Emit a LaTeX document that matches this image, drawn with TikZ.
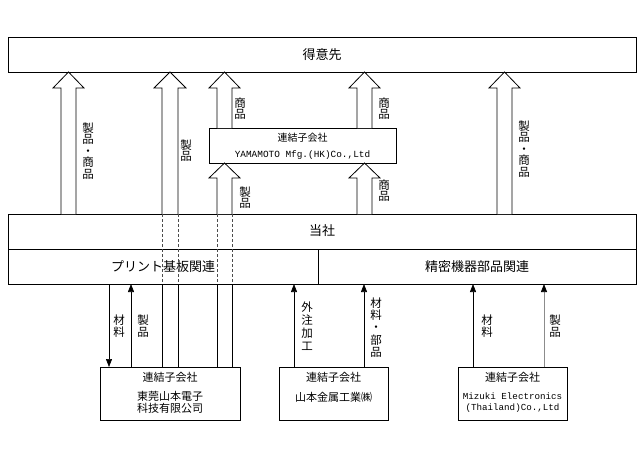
\documentclass[tikz,border=0pt]{standalone}
\usepackage{fontspec}
\setmainfont{Noto Sans CJK JP}
\newfontfamily\monof{Liberation Mono}
\usetikzlibrary{arrows.meta}
\tikzset{
  box/.style={draw, line width=0.9pt, fill=white, inner sep=0pt},
  harr/.style={draw, line width=0.8pt, fill=white, line join=miter},
  thinarr/.style={line width=0.6pt, -{Triangle[width=6pt,length=8pt]}},
  grayarr/.style={line width=0.7pt, draw=black!45, -{Triangle[width=6pt,length=8pt,color=black]}},
  vlab/.style={align=center, inner sep=0pt, font=\fontsize{11.5}{11.5}\selectfont},
  vlabw/.style={align=center, inner sep=0pt, font=\fontsize{11.5}{13}\selectfont},
  big/.style={font=\fontsize{13}{13}\selectfont},
  mid/.style={font=\fontsize{11}{11}\selectfont},
}
\newcommand\harrow[5]{\draw[harr] (#1,#3) -- (#1,#5) -- ({#1-8},#5) -- ({(#1+#2)/2},#4) -- ({#2+8},#5) -- (#2,#5) -- (#2,#3);}
\begin{document}
\begin{tikzpicture}[x=1pt,y=-1pt]
\useasboundingbox (0,0) rectangle (643,455);
% top box
\draw[box] (8,37) rectangle (636,72);
\node[big] (tokui) at (322,54.5) {得意先};
% HK box
\draw[box] (209,128) rectangle (396,163);
\node[font=\fontsize{10}{10}\selectfont] (hk1) at (302.5,137.5) {連結子会社};
\node[font=\monof\fontsize{9.4}{9.4}\selectfont] (hk2) at (302.5,155) {YAMAMOTO Mfg.(HK)Co.,Ltd};
% 当社 box
\draw[box] (8,214) rectangle (636,284);
\draw[line width=0.9pt] (8,249) -- (636,249);
\draw[line width=0.9pt] (318,249) -- (318,284);
\node[big] (tosha) at (322,231) {当社};
\node[big] (print) at (163,267) {プリント基板関連};
\node[big] (seimitsu) at (477,267) {精密機器部品関連};
% hollow arrows
\harrow{61}{76}{214}{72}{88}
\harrow{162}{178}{214}{72}{88}
\harrow{217}{232}{128}{72}{88}
\harrow{217}{232}{214}{163}{178}
\harrow{357}{372}{128}{72}{88}
\harrow{357}{372}{214}{163}{178}
\harrow{497}{512}{214}{72}{88}
% dashed through 当社
\foreach \x in {162,178,217,232} {
  \draw[line width=0.5pt, dash pattern=on 3pt off 2pt, black!70] (\x,214) -- (\x,284);
  \draw[line width=0.8pt] (\x,284) -- (\x,367);
}
% labels of hollow arrows
\node[vlab] (l1) at (88,151) {製\\品\\・\\商\\品};
\node[vlab] (l2) at (186,150.5) {製\\品};
\node[vlab] (l3) at (240,108.5) {商\\品};
\node[vlab] (l4) at (245,197.5) {製\\品};
\node[vlab] (l5) at (384,108.5) {商\\品};
\node[vlab] (l6) at (384,190.5) {商\\品};
\node[vlab] (l7) at (524,149) {製\\品\\・\\商\\品};
% bottom boxes
\draw[box] (100,367) rectangle (240,420);
\node[mid] (b1a) at (170,377.5) {連結子会社};
\node[mid, align=center, font=\fontsize{11}{12}\selectfont] (b1b) at (170,402.5) {東莞山本電子\\科技有限公司};
\draw[box] (279,367) rectangle (388,420);
\node[mid] (b2a) at (333.5,377.5) {連結子会社};
\node[mid] (b2b) at (333.5,397) {山本金属工業㈱};
\draw[box] (458,367) rectangle (567,420);
\node[mid] (b3a) at (512.5,377.5) {連結子会社};
\node[align=center, font=\monof\fontsize{9.2}{11.5}\selectfont] (b3b) at (512.5,402.5) {Mizuki Electronics\\(Thailand)Co.,Ltd};
% thin arrows
\coordinate (top1) at (109,284); \coordinate (bot1) at (109,367);
\coordinate (top2) at (131,284); \coordinate (bot2) at (131,367);
\coordinate (top3) at (294,284); \coordinate (bot3) at (294,367);
\coordinate (top4) at (364,284); \coordinate (bot4) at (364,367);
\coordinate (top5) at (473,284); \coordinate (bot5) at (473,367);
\coordinate (top6) at (544,284); \coordinate (bot6) at (544,367);
\draw[thinarr] (top1) -- (bot1);
\draw[thinarr] (bot2) -- (top2);
\draw[thinarr] (bot3) -- (top3);
\draw[thinarr] (bot4) -- (top4);
\draw[thinarr] (bot5) -- (top5);
\draw[grayarr] (bot6) -- (top6);
\node[vlab] (m1) at (119,326) {材\\料};
\node[vlab] (m2) at (143,326) {製\\品};
\node[vlabw] (m3) at (307,326) {外\\注\\加\\工};
\node[vlab, font=\fontsize{11.5}{12.3}\selectfont] (m4) at (376,327.5) {材\\料\\・\\部\\品};
\node[vlab] (m5) at (487,326) {材\\料};
\node[vlab] (m6) at (555,326) {製\\品};
\end{tikzpicture}
\end{document}
